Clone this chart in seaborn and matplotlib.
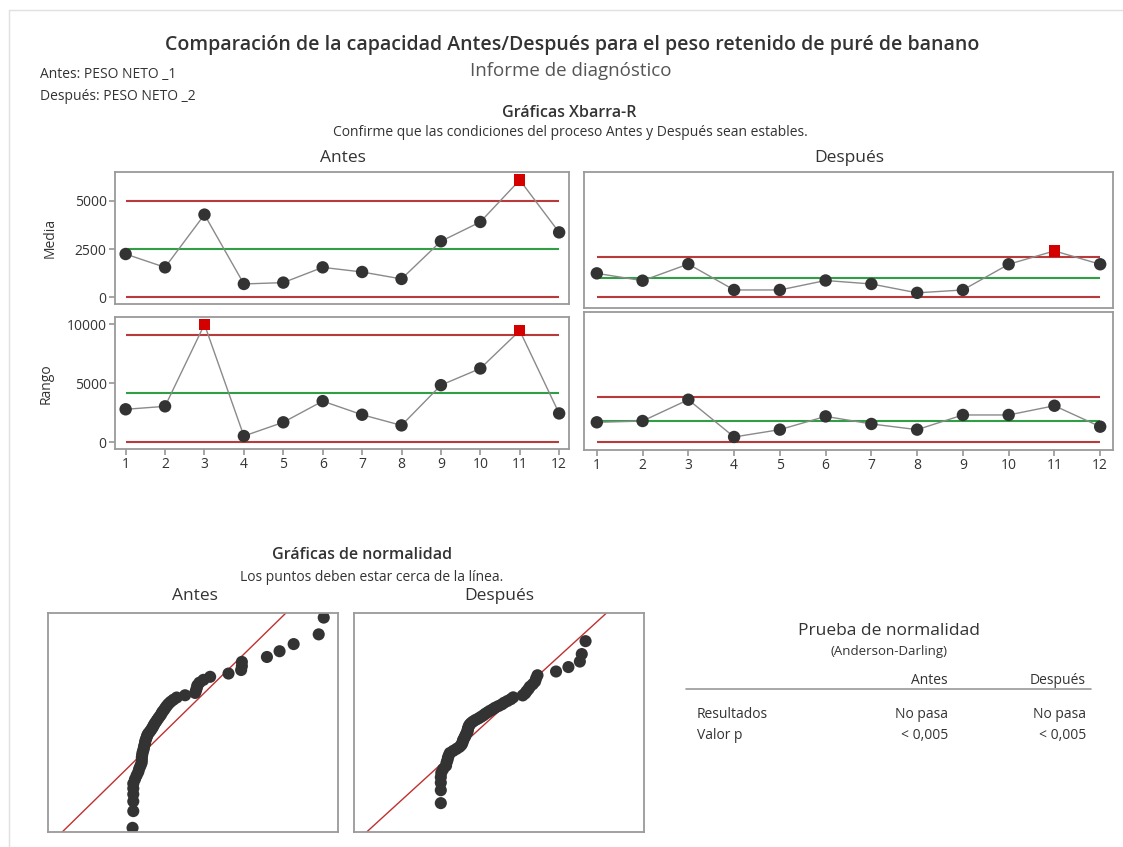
import matplotlib
matplotlib.use("Agg")
import matplotlib.pyplot as plt
import seaborn as sns
import numpy as np
import pandas as pd
from statistics import NormalDist

# ---------------- datos ----------------
muestras = list(range(1, 13))
media_antes = [2240, 1550, 4280, 690, 760, 1550, 1310, 950, 2900, 3900, 6070, 3360]
rango_antes = [2790, 3040, 9970, 530, 1690, 3480, 2330, 1430, 4830, 6240, 9440, 2440]
media_despues = [1240, 860, 1720, 380, 380, 870, 690, 230, 380, 1710, 2400, 1710]
rango_despues = [1690, 1800, 3600, 450, 1070, 2190, 1550, 1070, 2310, 2310, 3090, 1320]

# limites de control (LIC, LC, LSC)
lim_media_antes = (0, 2500, 4985)
lim_rango_antes = (0, 4195, 9070)
lim_media_despues = (0, 1015, 2100)
lim_rango_despues = (0, 1800, 3830)

# datos individuales para las graficas de normalidad
datos_antes = [230, 270, 270, 270, 270, 270, 360, 450, 540, 590,
               660, 720, 730, 730, 750, 770, 810, 840, 860, 900,
               910, 950, 990, 1020, 1080, 1170, 1240, 1310, 1360, 1420,
               1490, 1560, 1630, 1710, 1780, 1830, 1920, 1990, 2070, 2160,
               2280, 2430, 2610, 3060, 3600, 3650, 3690, 3720, 3830, 4050,
               4410, 5400, 6080, 6120, 6120, 7470, 8150, 8910, 10260, 10530]
datos_despues = [40, 40, 40, 40, 50, 90, 150, 160, 180, 190,
                 210, 230, 300, 370, 430, 470, 490, 500, 510, 530,
                 550, 560, 580, 600, 600, 610, 620, 630, 650, 680,
                 720, 770, 830, 880, 930, 970, 1020, 1070, 1130, 1180,
                 1250, 1320, 1370, 1440, 1510, 1560, 1760, 1810, 1840, 1880,
                 1910, 1970, 2020, 2040, 2070, 2460, 2720, 2960, 3000, 3080]

# ---------------- estilo ----------------
sns.set_theme(style="white")
plt.rcParams['font.family'] = ['Open Sans', 'DejaVu Sans']

W, H = 1123, 847
TXT = "#333333"
ROJO = "#b83a3a"
VERDE = "#2f9e44"
PUNTO = "#333333"

fig = plt.figure(figsize=(W / 100, H / 100), dpi=100)
fig.patch.set_facecolor("white")


def ejes_px(x0, y0, x1, y1):
    return fig.add_axes([x0 / W, 1 - y1 / H, (x1 - x0) / W, (y1 - y0) / H])


def texto(x, y, s, size=10, color=TXT, ha="center", weight="normal"):
    fig.text(x / W, 1 - y / H, s, fontsize=size, color=color, ha=ha,
             va="center", fontweight=weight)


def marco(ax):
    for sp in ax.spines.values():
        sp.set_color("#9a9a9a")
        sp.set_linewidth(1.3)


def carta(ax, valores, lims, xlim, ylim, yticks, xlabels):
    df = pd.DataFrame({"muestra": muestras, "valor": valores})
    lic, lc, lsc = lims
    ax.hlines([lsc, lic], 1, 12, color=ROJO, lw=1.5, zorder=1)
    ax.hlines(lc, 1, 12, color=VERDE, lw=1.5, zorder=1)
    sns.lineplot(data=df, x="muestra", y="valor", ax=ax, color="#8a8a8a",
                 lw=1.0, zorder=2)
    fuera = (df["valor"] > lsc) | (df["valor"] < lic)
    sns.scatterplot(data=df[~fuera], x="muestra", y="valor", ax=ax,
                    color=PUNTO, s=80, edgecolor="none", zorder=3)
    sns.scatterplot(data=df[fuera], x="muestra", y="valor", ax=ax,
                    color="#d40000", marker="s", s=68, edgecolor="none",
                    zorder=3)
    ax.set_xlim(*xlim)
    ax.set_ylim(*ylim)
    ax.set_xlabel("")
    ax.set_ylabel("")
    ax.set_xticks(muestras)
    if xlabels:
        ax.tick_params(axis="x", bottom=True, length=4, color="#9a9a9a",
                       labelsize=10, labelcolor=TXT, pad=2)
    else:
        ax.set_xticklabels([])
        ax.tick_params(axis="x", bottom=False)
    if yticks is None:
        ax.set_yticks([])
    else:
        ax.set_yticks(yticks)
        ax.tick_params(axis="y", left=True, length=4, color="#9a9a9a",
                       labelsize=10, labelcolor=TXT, pad=2)
    marco(ax)


# ---------------- graficas Xbarra-R ----------------
ax1 = ejes_px(115, 172, 569, 304)
carta(ax1, media_antes, lim_media_antes, (0.73, 12.25), (-347, 6486),
      [0, 2500, 5000], False)
ax2 = ejes_px(115, 317, 569, 449)
carta(ax2, rango_antes, lim_rango_antes, (0.73, 12.25), (-566, 10592),
      [0, 5000, 10000], True)
ax3 = ejes_px(584, 172, 1113, 308)
carta(ax3, media_despues, lim_media_despues, (0.72, 12.28), (-554, 6486),
      None, False)
ax4 = ejes_px(584, 312, 1113, 450)
carta(ax4, rango_despues, lim_rango_despues, (0.72, 12.28), (-651, 11014),
      None, True)

fig.text(50 / W, 1 - 238 / H, "Media", rotation=90, fontsize=10,
         color=TXT, ha="center", va="center")
fig.text(46 / W, 1 - 384 / H, "Rango", rotation=90, fontsize=10,
         color=TXT, ha="center", va="center")

# ---------------- graficas de normalidad ----------------
def normalidad(ax, datos, xlim, ylim):
    x = np.sort(np.array(datos, dtype=float))
    n = len(x)
    nd = NormalDist()
    z = [nd.inv_cdf((i - 0.3) / (n + 0.4)) for i in range(1, n + 1)]
    df = pd.DataFrame({"dato": x, "z": z})
    mu, sd = x.mean(), x.std(ddof=1)
    zz = np.array([ylim[0] - 1, ylim[1] + 1])
    ax.plot(mu + sd * zz, zz, color="#c03030", lw=1.0, zorder=1)
    sns.scatterplot(data=df, x="dato", y="z", ax=ax, color=PUNTO, s=76,
                    edgecolor="none", zorder=2)
    ax.set_xlim(*xlim)
    ax.set_ylim(*ylim)
    ax.set_xticks([])
    ax.set_yticks([])
    ax.set_xlabel("")
    ax.set_ylabel("")
    marco(ax)


ax5 = ejes_px(48, 613, 338, 832)
normalidad(ax5, datos_antes, (-4325, 11299), (-2.36, 2.37))
ax6 = ejes_px(354, 613, 644, 832)
normalidad(ax6, datos_despues, (-1783, 4307), (-3.08, 3.06))

# ---------------- textos ----------------
texto(572, 45, "Comparación de la capacidad Antes/Después para el peso retenido de puré de banano",
      size=14, weight="semibold")
texto(571, 71, "Informe de diagnóstico", size=13.5, color="#555555")
texto(40, 74, "Antes: PESO NETO _1", size=10, ha="left")
texto(40, 96, "Después: PESO NETO _2", size=10, ha="left")
texto(569, 113, "Gráficas Xbarra-R", size=11.5, weight="semibold")
texto(570, 132, "Confirme que las condiciones del proceso Antes y Después sean estables.", size=10)
texto(343, 158, "Antes", size=12.5)
texto(849, 158, "Después", size=12.5)

texto(362, 555, "Gráficas de normalidad", size=11.5, weight="semibold")
texto(372, 577, "Los puntos deben estar cerca de la línea.", size=10)
texto(195, 596, "Antes", size=12.5)
texto(499, 596, "Después", size=12.5)

texto(889, 631, "Prueba de normalidad", size=12.5)
texto(889, 652, "(Anderson-Darling)", size=9.5)
texto(948, 680, "Antes", size=10, ha="right")
texto(1086, 680, "Después", size=10, ha="right")
fig.add_artist(plt.Line2D([686 / W, 1091 / W], [1 - 689 / H, 1 - 689 / H],
                          color="#9a9a9a", lw=1.2))
texto(697, 714, "Resultados", size=10, ha="left")
texto(697, 735, "Valor p", size=10, ha="left")
texto(948, 714, "No pasa", size=10, ha="right")
texto(1086, 714, "No pasa", size=10, ha="right")
texto(948, 735, "< 0,005", size=10, ha="right")
texto(1086, 735, "< 0,005", size=10, ha="right")

# borde tenue del informe
fig.add_artist(plt.Line2D([9 / W, 9 / W], [0, 1 - 10 / H], color="#e0e0e0", lw=1))
fig.add_artist(plt.Line2D([9 / W, 1], [1 - 10 / H, 1 - 10 / H], color="#e0e0e0", lw=1))

fig.savefig("out.png", dpi=100, facecolor="white")
